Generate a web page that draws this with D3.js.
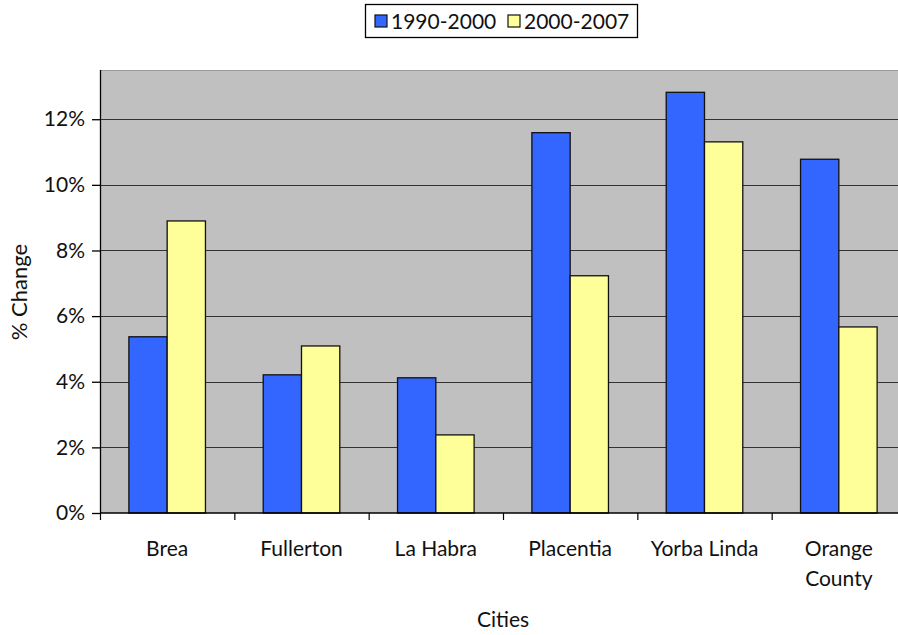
<!DOCTYPE html>
<html>
<head>
<meta charset="utf-8">
<script src="https://cdn.jsdelivr.net/npm/d3@7"></script>
<style>
  html, body { margin: 0; padding: 0; background: #fff; }
  svg { display: block; font-family: Lato, "Open Sans", sans-serif; }
</style>
</head>
<body>
<svg id="chart" width="898" height="635"></svg>
<script>
// Population growth by city, percent change
const cities = ["Brea", "Fullerton", "La Habra", "Placentia", "Yorba Linda", "Orange County"];
const seriesNames = ["1990-2000", "2000-2007"];
const change1990_2000 = [5.37, 4.21, 4.12, 11.59, 12.82, 10.78];
const change2000_2007 = [8.90, 5.09, 2.38, 7.23, 11.31, 5.67];
const yTicks = [0, 2, 4, 6, 8, 10, 12];
const seriesColors = ["#3366ff", "#ffff99"];

const FS = 21;
const svg = d3.select("#chart");
const margin = { left: 100, top: 70, right: -8, bottom: 122 };
const W = 898, H = 635;
const plotW = W - margin.left - margin.right;
const plotH = H - margin.top - margin.bottom;

const x = d3.scaleBand().domain(cities).range([0, plotW]).paddingInner(0.43).paddingOuter(0.215);
const xBand = d3.scaleBand().domain(cities).range([0, plotW]);
const xs = d3.scaleBand().domain(seriesNames).range([0, x.bandwidth()]);
const y = d3.scaleLinear().domain([0, 13.5]).range([plotH, 0]);

const g = svg.append("g").attr("transform", `translate(${margin.left},${margin.top})`);

// plot background
g.append("rect").attr("x", 0).attr("y", 0).attr("width", plotW).attr("height", plotH)
  .attr("fill", "#c0c0c0");
g.append("line").attr("x1", 0).attr("x2", plotW).attr("y1", 0.5).attr("y2", 0.5)
  .attr("stroke", "#999").attr("stroke-width", 1);

// gridlines
g.selectAll(".grid").data(yTicks.filter(d => d > 0)).join("line")
  .attr("x1", 0).attr("x2", plotW)
  .attr("y1", d => Math.round(y(d)) + 0.5).attr("y2", d => Math.round(y(d)) + 0.5)
  .attr("stroke", "#333").attr("stroke-width", 1.2);

// bars
const rows = cities.map((c, i) => ({ city: c, values: [change1990_2000[i], change2000_2007[i]] }));
const groups = g.selectAll(".grp").data(rows).join("g")
  .attr("transform", d => `translate(${x(d.city)},0)`);
groups.selectAll("rect").data(d => d.values.map((v, k) => ({ v, k }))).join("rect")
  .attr("x", d => xs(seriesNames[d.k]))
  .attr("width", xs.bandwidth())
  .attr("y", d => y(d.v))
  .attr("height", d => y(0) - y(d.v))
  .attr("fill", d => seriesColors[d.k])
  .attr("stroke", "#111")
  .attr("stroke-width", 1.3);

// y axis
const yAxis = g.append("g")
  .call(d3.axisLeft(y).tickValues(yTicks).tickFormat(d => d + "%").tickSize(8).tickPadding(7));
yAxis.attr("font-size", FS).attr("font-family", "Lato, sans-serif");
yAxis.select(".domain").attr("stroke", "#000").attr("stroke-width", 1.3).attr("d", `M0.5,0V${plotH}`);
yAxis.selectAll(".tick line").attr("stroke", "#000").attr("stroke-width", 1.3);
yAxis.selectAll(".tick text").attr("fill", "#111");

// x axis
const xAxisG = g.append("g").attr("transform", `translate(0,${plotH})`);
xAxisG.append("line").attr("x1", 0).attr("x2", plotW).attr("y1", 0).attr("y2", 0)
  .attr("stroke", "#000").attr("stroke-width", 1.5);
xAxisG.selectAll(".xt").data(cities).join("line")
  .attr("x1", d => xBand(d) + 0.5).attr("x2", d => xBand(d) + 0.5)
  .attr("y1", 0).attr("y2", 7).attr("stroke", "#000").attr("stroke-width", 1.2);
const labels = xAxisG.selectAll(".xl").data(cities).join("text")
  .attr("text-anchor", "middle")
  .attr("font-size", FS).attr("fill", "#111")
  .attr("x", d => xBand(d) + xBand.bandwidth() / 2)
  .attr("y", 43);
labels.each(function (d) {
  const words = d === "Orange County" ? ["Orange", "County"] : [d];
  const t = d3.select(this);
  words.forEach((w, i) => t.append("tspan").attr("x", xBand(d) + xBand.bandwidth() / 2)
    .attr("dy", i === 0 ? 0 : 30).text(w));
});

// axis titles
svg.append("text").attr("x", 503).attr("y", 627).attr("text-anchor", "middle")
  .attr("font-size", FS).attr("fill", "#111").text("Cities");
svg.append("text").attr("transform", "translate(27,292) rotate(-90)").attr("text-anchor", "middle")
  .attr("font-size", FS + 1).attr("fill", "#111").text("% Change");

// legend
const lg = svg.append("g").attr("transform", "translate(365,4)");
lg.append("rect").attr("x", 0.5).attr("y", 0.5).attr("width", 272).attr("height", 33)
  .attr("fill", "#fff").attr("stroke", "#000").attr("stroke-width", 1.3);
const legendX = [10, 143];
seriesNames.forEach((s, i) => {
  lg.append("rect").attr("x", legendX[i]).attr("y", 11).attr("width", 12).attr("height", 12)
    .attr("fill", seriesColors[i]).attr("stroke", "#111").attr("stroke-width", 1.2);
  lg.append("text").attr("x", legendX[i] + 16).attr("y", 25).attr("font-size", FS)
    .attr("fill", "#111").text(s);
});
</script>
</body>
</html>
